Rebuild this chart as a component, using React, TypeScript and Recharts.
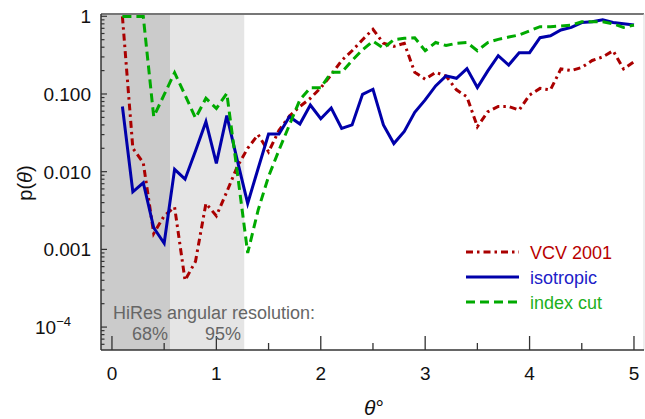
import React from "react"
import {
  LineChart,
  Line,
  XAxis,
  YAxis,
  ReferenceArea,
  ReferenceLine,
} from "recharts"

// angle in degrees
const theta = [
  0.1, 0.2, 0.3, 0.4, 0.5, 0.6, 0.7, 0.8, 0.9, 1.0,
  1.1, 1.2, 1.3, 1.4, 1.5, 1.6, 1.7, 1.8, 1.9, 2.0,
  2.1, 2.2, 2.3, 2.4, 2.5, 2.6, 2.7, 2.8, 2.9, 3.0,
  3.1, 3.2, 3.3, 3.4, 3.5, 3.6, 3.7, 3.8, 3.9, 4.0,
  4.1, 4.2, 4.3, 4.4, 4.5, 4.6, 4.7, 4.8, 4.9, 5.0,
]

const vcv2001 = [
  1.0, 0.02, 0.013, 0.0016, 0.0027, 0.0035, 0.0004, 0.0007, 0.0039, 0.0027,
  0.0055, 0.0116, 0.02, 0.03, 0.018, 0.034, 0.052, 0.069, 0.088, 0.12,
  0.176, 0.27, 0.36, 0.5, 0.68, 0.45, 0.41, 0.45, 0.19, 0.155,
  0.19, 0.17, 0.113, 0.092, 0.038, 0.059, 0.069, 0.069, 0.062, 0.097,
  0.118, 0.113, 0.21, 0.2, 0.22, 0.27, 0.3, 0.36, 0.21, 0.26,
]

const isotropic = [
  0.069, 0.0055, 0.0072, 0.0019, 0.0012, 0.0107, 0.008, 0.0185, 0.044, 0.0128,
  0.0526, 0.0141, 0.0039, 0.011, 0.0306, 0.0306, 0.051, 0.041, 0.072, 0.048,
  0.066, 0.036, 0.04, 0.099, 0.115, 0.04, 0.023, 0.033, 0.058, 0.084,
  0.127, 0.171, 0.159, 0.212, 0.121, 0.198, 0.311, 0.236, 0.34, 0.34,
  0.53, 0.56, 0.667, 0.72, 0.83, 0.85, 0.9, 0.83, 0.8, 0.77,
]

const indexCut = [
  0.99, 0.99, 0.99, 0.051, 0.098, 0.188, 0.097, 0.049, 0.088, 0.065,
  0.102, 0.0099, 0.0009, 0.0032, 0.0087, 0.019, 0.04, 0.084, 0.12, 0.12,
  0.19, 0.19, 0.27, 0.37, 0.48, 0.39, 0.5, 0.52, 0.53, 0.36,
  0.46, 0.42, 0.45, 0.46, 0.36, 0.46, 0.505, 0.54, 0.575, 0.65,
  0.735, 0.735, 0.75, 0.77, 0.85, 0.85, 0.85, 0.8, 0.72, 0.77,
]

const xTicks = [0, 0.5, 1, 1.5, 2, 2.5, 3, 3.5, 4, 4.5, 5]
const yMajor = [1e-4, 1e-3, 1e-2, 0.1, 1]
const yLabels: Record<string, string> = {
  "0.001": "0.001",
  "0.01": "0.010",
  "0.1": "0.100",
  "1": "1",
}
const Y_MIN = 5.07e-5
const Y_MAX = 1.07
const yTicks: number[] = []
for (const d of [1e-5, 1e-4, 1e-3, 1e-2, 0.1]) {
  for (let m = 1; m <= 9; m++) {
    const v = +(d * m).toPrecision(3)
    if (v >= Y_MIN) yTicks.push(v)
  }
}
yTicks.push(1)

// 68% and 95% HiRes angular resolution
const res68 = 0.556
const res95 = 1.267

const series = [
  { key: "vcv", name: "VCV 2001", color: "#aa0000", text: "#b80000", dash: "7 4 2.5 4" },
  { key: "iso", name: "isotropic", color: "#0000aa", text: "#2020c8", dash: undefined },
  { key: "idx", name: "index cut", color: "#00aa00", text: "#20b020", dash: "9 5" },
]

const data = theta.map((t, i) => ({
  theta: t,
  vcv: vcv2001[i],
  iso: isotropic[i],
  idx: indexCut[i],
}))

const W = 645
const H = 419
const LEFT = 101
const TOP = 14
const BOTTOM = 350
const FONT = "'Liberation Sans', Arial, sans-serif"

const XTick = (props: any) => {
  const { x, payload } = props
  const v = payload.value
  const major = Number.isInteger(v)
  return (
    <g>
      <line x1={x} x2={x} y1={BOTTOM} y2={BOTTOM - (major ? 14 : 7)} stroke="#333" strokeWidth={1.3} />
      {major && (
        <text x={x} y={BOTTOM + 30} textAnchor="middle" fontSize={19} fill="#111" fontFamily={FONT}>
          {v}
        </text>
      )}
    </g>
  )
}

const YTick = (props: any) => {
  const { y, payload } = props
  const v = payload.value
  const major = yMajor.some((m) => Math.abs(m - v) / m < 1e-6)
  const label = yLabels[String(v)]
  return (
    <g>
      <line x1={LEFT} x2={LEFT + (major ? 6 : 3.5)} y1={y} y2={y} stroke="#333" strokeWidth={1.2} />
      {major && v === 1e-4 && (
        <text x={71} y={y + 7} textAnchor="end" fontSize={19} fill="#111" fontFamily={FONT}>
          10
          <tspan dy={-8} fontSize={13}>−4</tspan>
        </text>
      )}
      {major && label && (
        <text x={91} y={y + 7} textAnchor="end" fontSize={19} fill="#111" fontFamily={FONT}>
          {label}
        </text>
      )}
    </g>
  )
}

export default function App() {
  return (
    <div style={{ position: "absolute", left: 0, top: 0, width: W, height: H, background: "#fff" }}>
      <LineChart
        width={W}
        height={H}
        data={data}
        margin={{ top: TOP, right: 1, bottom: 0, left: 0 }}
      >
        <ReferenceArea x1={-0.105} x2={res68} fill="#cbcbcb" fillOpacity={1} stroke="none" ifOverflow="hidden" />
        <ReferenceArea x1={res68} x2={res95} fill="#e5e5e5" fillOpacity={1} stroke="none" ifOverflow="hidden" />
        <XAxis
          dataKey="theta"
          type="number"
          domain={[-0.105, 5.096]}
          ticks={xTicks}
          interval={0}
          tickLine={false}
          tick={<XTick />}
          axisLine={{ stroke: "#333", strokeWidth: 1.5 }}
          height={H - BOTTOM}
          allowDataOverflow
        />
        <YAxis
          type="number"
          scale="log"
          domain={[Y_MIN, Y_MAX]}
          ticks={yTicks}
          interval={0}
          tickLine={false}
          tick={<YTick />}
          axisLine={{ stroke: "#333", strokeWidth: 1.5 }}
          width={LEFT}
          allowDataOverflow
        />
        <ReferenceLine y={Y_MAX} stroke="#777" strokeWidth={2} ifOverflow="visible" />
        <ReferenceLine x={5.096} stroke="#ddd" strokeWidth={1} ifOverflow="visible" />
        {series.map((s) => (
          <Line
            key={s.key}
            dataKey={s.key}
            name={s.name}
            stroke={s.color}
            strokeWidth={3}
            strokeDasharray={s.dash}
            dot={false}
            activeDot={false}
            isAnimationActive={false}
            strokeLinejoin="miter"
          />
        ))}
      </LineChart>
      <svg
        width={W}
        height={H}
        style={{ position: "absolute", left: 0, top: 0, pointerEvents: "none" }}
      >
        {series.map((s, i) => (
          <g key={s.key}>
            <line
              x1={466}
              x2={519}
              y1={252 + i * 25}
              y2={252 + i * 25}
              stroke={s.color}
              strokeWidth={3}
              strokeDasharray={s.dash}
            />
            <text x={530} y={258.5 + i * 25} fontSize={18} fill={s.text} fontFamily={FONT}>
              {s.name}
            </text>
          </g>
        ))}
        <text x={113} y={319} fontSize={18} fill="#666" fontFamily={FONT}>
          HiRes angular resolution:
        </text>
        <text x={150} y={340} fontSize={18} fill="#666" fontFamily={FONT} textAnchor="middle">
          68%
        </text>
        <text x={223} y={340} fontSize={18} fill="#666" fontFamily={FONT} textAnchor="middle">
          95%
        </text>
        <text x={374} y={415} fontSize={21} fill="#111" fontFamily={FONT} textAnchor="middle">
          <tspan fontStyle="italic">θ</tspan>°
        </text>
        <text
          transform="translate(32,183) rotate(-90)"
          fontSize={20}
          fill="#111"
          fontFamily={FONT}
          textAnchor="middle"
        >
          p(<tspan fontStyle="italic">θ</tspan>)
        </text>
      </svg>
    </div>
  )
}
